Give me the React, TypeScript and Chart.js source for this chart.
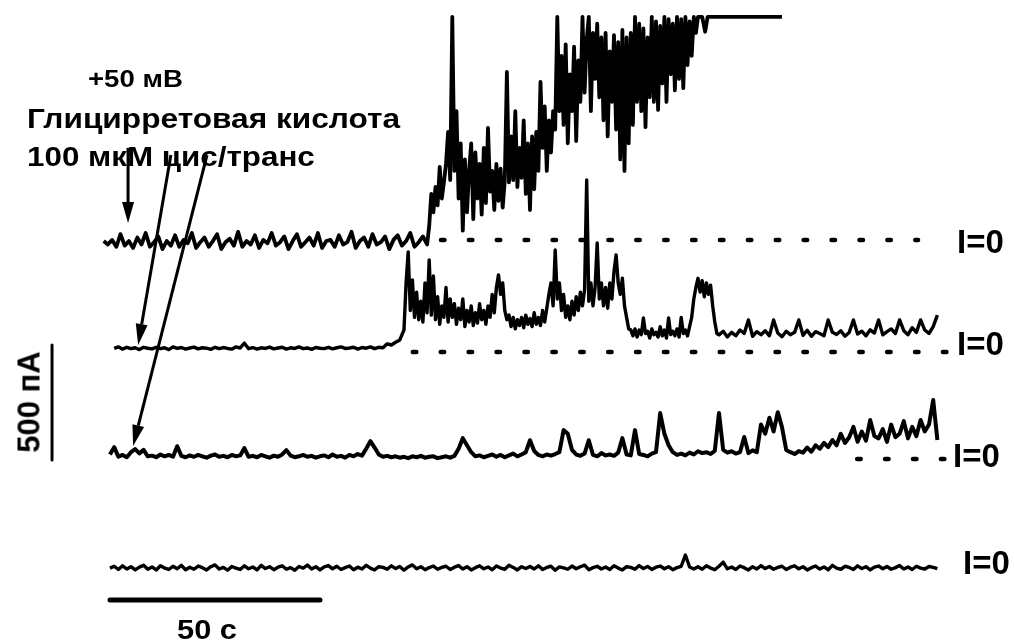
import React, { useEffect, useRef } from "react";
import { Chart, registerables } from "chart.js";

Chart.register(...registerables);

// ---------- DATA (time in s, current in pA) ----------
const trace1Start = -1.5; // s, 1 s sampling for the quiet part
const trace1Baseline = [
  -5, -20, 0, -30, 25, -25, -5, -35, 10, -20,
  30, -30, -10, 15, -40, -5, -25, 20, -30, 0,
  -15, 30, -35, -10, 10, -30, -5, 25, -40, -10,
  5, -25, 35, -30, -5, -20, 20, -35, 0, -15,
  30, -25, -10, 15, -40, -5, 25, -30, -10, 10,
  -25, 30, -35, -5, 0, -30, 20, -20, -10, 35,
  -35, -5, 10, -30, 25, -20, -10, 15, -40, 0,
  20, -25, -5, 30, -30, -10, 15, -20,
];
// 0.5 s sampling after channel incorporation
const trace1Active = [
  60, 200, 120, 230, 150, 317, 180, 250,
  330, 470, 260, 970, 300,
  560, 180, 420, 40, 350, 120, 300,
  420, 90, 380, 180, 330, 110, 400, 160, 487, 210,
  300, 130, 330, 170, 310, 140, 260, 730, 250,
  450, 260, 560, 230, 400, 270, 520,
  200, 420, 130, 450, 220, 470, 300, 687,
  400, 580, 300, 520, 380, 560, 480,
  970, 560,
  800, 500, 850, 420, 720, 560, 840, 430, 780, 600,
  970, 640, 870, 970, 560, 900, 700, 940, 620,
  880, 520, 900, 450, 820, 600, 890, 480, 860,
  350, 913, 300, 880, 420,
  900, 500, 970, 600, 940, 560, 920, 490, 880, 620,
  970, 600, 950, 565, 930, 680, 970, 600, 960, 720, 940, 650, 970, 700,
  960, 660, 970, 760, 950, 800, 970, 900, 970,
];
const trace1TailTime = [141, 141.7, 142.3, 160];
const trace1TailCurrent = [970, 905, 970, 970];

// trace 2: quiet part (1 s), active part (0.5 s), late part (1 s)
const trace2QuietStart = 1;
const trace2Quiet = [
  15, 22, 12, 20, 14, 18, 10, 20, 16, 13,
  20, 14, 18, 10, 22, 15, 19, 12, 17, 21,
  13, 18, 16, 11, 20, 14, 19, 15, 12, 22,
  17, 38, 14, 19, 12, 18, 15, 21, 13, 17,
  20, 12, 18, 15, 22, 14, 17, 11, 19, 16,
  14, 20, 13, 18, 22, 15, 17, 20, 12, 19,
  16, 22, 14, 20, 18, 35, 30, 42, 52,
];
const trace2ActiveStart = 70;
const trace2Active = [
  96, 300, 435, 180, 313, 150, 260, 140, 220, 130, 300, 170, 400, 160, 330, 140, 240, 120, 200, 150,
  280, 130, 230, 150, 210, 120, 190, 140, 230, 110, 180, 130, 200, 115, 170, 125, 210, 140, 180, 120,
  200, 150, 250, 170, 280, 335, 250, 300, 180, 140, 160, 110, 150, 100, 140, 115, 150, 105, 160, 120,
  145, 110, 170, 120, 150, 115, 180, 130, 190, 250, 300, 200, 443, 230, 300, 180, 250, 150, 200, 140,
  220, 160, 240, 180, 260, 200, 270, 748, 220, 300, 200, 280, 474, 230, 300, 200, 280, 190, 300, 230,
  350, 422, 300, 250, 320, 200, 150, 100, 96, 70, 100, 65, 95, 75, 148, 80, 90, 60, 100, 75,
  85, 65, 110, 70, 95, 60, 148, 75, 90, 70, 100, 65, 150, 80, 95, 70, 110, 150, 230, 280,
  320, 260, 310, 240, 300, 250, 290, 200, 130, 80, 74,
];
const trace2LateStart = 146;
const trace2Late = [
  90, 65, 85, 70, 95, 80, 139, 68, 88,
  75, 92, 70, 139, 82, 66, 90, 75, 85, 139,
  72, 94, 68, 88, 80, 70, 139, 85, 76, 92,
  68, 84, 139, 78, 90, 70, 96, 82, 139, 74,
  88, 100, 80, 139, 92, 75, 105, 85, 139, 95,
  80, 110, 160,
];

const trace3Start = 0;
const trace3Current = [
  20, 52, 10, 18, 8, 30, 43, 25, 40, 12,
  15, 8, 20, 12, 18, 10, 56, 14, 8, 16,
  10, 18, 12, 6, 15, 20, 10, 14, 8, 18,
  12, 16, 48, 10, 14, 8, 18, 12, 6, 15,
  10, 20, 39, 15, 8, 12, 18, 10, 14, 6,
  12, 16, 8, 20, 10, 14, 6, 18, 12, 22,
  15, 45, 78, 50, 20, 10, 14, 8, 12, 6,
  10, 4, 12, 8, 14, 6, 10, 12, 4, 8,
  12, 6, 14, 45, 91, 60, 30, 12, 16, 8,
  14, 20, 10, 18, 8, 16, 24, 12, 20, 30,
  82, 35, 18, 12, 20, 15, 22, 30, 126, 110,
  40, 20, 14, 24, 82, 18, 12, 26, 16, 20,
  14, 28, 91, 20, 16, 126, 22, 18, 12, 24,
  30, 200, 110, 60, 30, 18, 24, 16, 28, 20,
  34, 26, 30, 22, 36, 200, 40, 28, 34, 24,
  30, 96, 26, 38, 30, 150, 110, 180, 120, 204,
  139, 40, 30, 22, 35, 28, 50, 32, 60, 45,
  70, 52, 83, 60, 110, 70, 95, 140, 75, 120,
  80, 170, 100, 90, 130, 75, 150, 95, 110, 165,
  90, 140, 100, 170, 120, 150, 257, 83,
];

const trace4Start = 0;
const trace4Current = [
  0, 8, -6, 10, -4, 6, -8, 4, 12, -5,
  5, -8, 10, 0, -6, 8, -3, 12, -7, 4,
  -5, 9, 2, -8, 6, 14, -4, 3, -9, 7,
  0, -6, 10, -3, 5, -8, 12, -2, 6, -7,
  4, 10, -5, 2, -9, 7, 0, 13, -4, 6,
  -8, 5, 11, -3, 8, -6, 2, 9, -7, 4,
  -4, 12, 0, -8, 6, 3, -5, 10, -2, 7,
  -9, 5, 14, -3, 6, -7, 2, 9, -5, 3,
  8, -6, 4, 11, -4, 6, -8, 2, 10, -3,
  5, -7, 9, 0, -5, 12, 3, -8, 6, -2,
  7, -4, 10, -6, 3, 8, -9, 5, 1, -5,
  9, -3, 6, 13, -7, 2, 8, -4, 5, -6,
  10, 0, -8, 6, 3, -5, 11, -2, 7, -6,
  4, 9, -3, 6, -7, 2, 8, 57, 5, -4,
  6, -5, 10, 0, -7, 8, 26, -3, 5, -6,
  9, 2, -8, 6, -4, 11, -2, 7, -5, 3,
  8, -6, 4, 10, -3, 6, -8, 2, 9, -4,
  5, -7, 12, 0, -5, 8, 3, -6, 10, -2,
  6, -8, 4, 9, -3, 7, -5, 2, 11, -4,
  5, -6, 8, 0, -4, 7, 3, -2,
];

// I=0 reference (dotted) segments, time range in s, per trace
const zeroLineStart = [78.8, 72.1, 177.9];
const zeroLineEnd = [192.4, 199.2, 198.8];

const scaleBarTime = 50; // s
const scaleBarCurrent = 500; // pA

const headerLines = ["+50 мВ", "Глицирретовая кислота", "100 мкМ цис/транс"];
const timeBarLabel = "50 с";
const currentBarLabel = "500 пА";
const zeroLabel = "I=0";

// ---------- LAYOUT ----------
const W = 1014;
const H = 644;
const X_MIN = -26.19;
const X_MAX = 215.24;
const Y_MIN = 0;
const Y_MAX = 2800;
const ROW_OFFSET = [1757, 1270, 804, 330];
const TIME_BAR_LEVEL = 191;
const CURRENT_BAR_TIME = -13.8;
const CURRENT_BAR_FROM = 800;
// arrows in (time, absolute current) space
const ARROWS = [
  { t0: 4.3, v0: 2157, t1: 4.3, v1: 1830 },
  { t0: 14.5, v0: 2126, t1: 6.7, v1: 1300 },
  { t0: 23.1, v0: 2126, t1: 5.5, v1: 861 },
];

const FONT = '"Liberation Sans", Arial, "DejaVu Sans", sans-serif';

function series(start: number, step: number, values: number[], offset: number) {
  return values.map((v, i) => ({ x: start + i * step, y: v + offset }));
}

const overlayPlugin = {
  id: "overlay",
  afterDatasetsDraw(chart: any) {
    const { ctx } = chart;
    const xs = chart.scales.x;
    const ys = chart.scales.y;
    ctx.save();
    ctx.strokeStyle = "#000";
    ctx.fillStyle = "#000";
    ctx.lineCap = "round";
    // time scale bar
    ctx.lineWidth = 5;
    ctx.beginPath();
    ctx.moveTo(xs.getPixelForValue(0), ys.getPixelForValue(TIME_BAR_LEVEL));
    ctx.lineTo(xs.getPixelForValue(scaleBarTime), ys.getPixelForValue(TIME_BAR_LEVEL));
    ctx.stroke();
    // current scale bar
    ctx.lineWidth = 3;
    ctx.beginPath();
    ctx.moveTo(xs.getPixelForValue(CURRENT_BAR_TIME), ys.getPixelForValue(CURRENT_BAR_FROM));
    ctx.lineTo(xs.getPixelForValue(CURRENT_BAR_TIME), ys.getPixelForValue(CURRENT_BAR_FROM + scaleBarCurrent));
    ctx.stroke();
    // arrows
    ctx.lineCap = "butt";
    for (const a of ARROWS) {
      const x0 = xs.getPixelForValue(a.t0);
      const y0 = ys.getPixelForValue(a.v0);
      const x1 = xs.getPixelForValue(a.t1);
      const y1 = ys.getPixelForValue(a.v1);
      const ang = Math.atan2(y1 - y0, x1 - x0);
      const headLen = 21;
      const headW = 6;
      const bx = x1 - headLen * Math.cos(ang);
      const by = y1 - headLen * Math.sin(ang);
      ctx.lineWidth = 3;
      ctx.beginPath();
      ctx.moveTo(x0, y0);
      ctx.lineTo(bx, by);
      ctx.stroke();
      ctx.beginPath();
      ctx.moveTo(x1, y1);
      ctx.lineTo(bx + headW * Math.sin(ang), by - headW * Math.cos(ang));
      ctx.lineTo(bx - headW * Math.sin(ang), by + headW * Math.cos(ang));
      ctx.closePath();
      ctx.fill();
    }
    ctx.restore();
  },
};

export default function App() {
  const ref = useRef<HTMLCanvasElement | null>(null);

  useEffect(() => {
    if (!ref.current) return;
    const t1Base = series(trace1Start, 1, trace1Baseline, ROW_OFFSET[0]);
    const activeStart = trace1Start + (trace1Baseline.length - 1) + 0.5;
    const t1Act = series(activeStart, 0.5, trace1Active, ROW_OFFSET[0]);
    const t1Tail = trace1TailTime.map((t, i) => ({ x: t, y: trace1TailCurrent[i] + ROW_OFFSET[0] }));
    const t2 = [
      ...series(trace2QuietStart, 1, trace2Quiet, ROW_OFFSET[1]),
      ...series(trace2ActiveStart, 0.5, trace2Active, ROW_OFFSET[1]),
      ...series(trace2LateStart, 1, trace2Late, ROW_OFFSET[1]),
    ];
    const traceStyle = {
      borderColor: "#000",
      borderWidth: 3.2,
      pointRadius: 0,
      fill: false,
      tension: 0,
      borderJoinStyle: "round" as const,
      order: 0,
    };
    const dotStyle = {
      borderColor: "#000",
      borderWidth: 4.5,
      borderDash: [3.5, 24.4],
      borderCapStyle: "round" as const,
      pointRadius: 0,
      fill: false,
      order: 1,
    };
    const zeroSets = zeroLineStart.map((s, i) => ({
      ...dotStyle,
      data: [
        { x: s, y: ROW_OFFSET[i] },
        { x: zeroLineEnd[i], y: ROW_OFFSET[i] },
      ],
    }));
    const chart = new Chart(ref.current, {
      type: "line",
      data: {
        datasets: [
          { ...traceStyle, borderWidth: 3.8, data: [...t1Base, ...t1Act, ...t1Tail] },
          { ...traceStyle, borderWidth: 3.4, data: t2 },
          { ...traceStyle, borderWidth: 4, data: series(trace3Start, 1, trace3Current, ROW_OFFSET[2]) },
          { ...traceStyle, borderWidth: 3.4, data: series(trace4Start, 1, trace4Current, ROW_OFFSET[3]) },
          ...zeroSets,
        ] as any,
      },
      options: {
        responsive: false,
        animation: false,
        devicePixelRatio: 1,
        events: [],
        layout: { padding: 0 },
        plugins: {
          legend: { display: false },
          tooltip: { enabled: false },
          title: { display: false },
        },
        scales: {
          x: { type: "linear", min: X_MIN, max: X_MAX, display: false },
          y: { type: "linear", min: Y_MIN, max: Y_MAX, display: false },
        },
      },
      plugins: [overlayPlugin],
    });
    return () => chart.destroy();
  }, []);

  const textBase: React.CSSProperties = {
    position: "absolute",
    fontFamily: FONT,
    fontWeight: 700,
    color: "#000",
    lineHeight: 1,
    whiteSpace: "nowrap",
    transformOrigin: "left center",
  };

  return (
    <div style={{ position: "absolute", left: 0, top: 0, width: W, height: H, background: "#fff", overflow: "hidden" }}>
      <canvas ref={ref} width={W} height={H} style={{ position: "absolute", left: 0, top: 0, width: W, height: H }} />
      <div style={{ ...textBase, left: 88, top: 68, fontSize: 23, transform: "scaleX(1.2)" }}>{headerLines[0]}</div>
      <div style={{ ...textBase, left: 27, top: 105, fontSize: 28, transform: "scaleX(1.13)" }}>{headerLines[1]}</div>
      <div style={{ ...textBase, left: 27, top: 143, fontSize: 28, transform: "scaleX(1.12)" }}>{headerLines[2]}</div>
      <div style={{ ...textBase, left: 177, top: 616, fontSize: 28, transform: "scaleX(1.1)" }}>{timeBarLabel}</div>
      <div
        style={{
          ...textBase,
          left: 29,
          top: 402,
          fontSize: 31,
          transformOrigin: "center center",
          transform: "translate(-50%, -50%) rotate(-90deg)",
        }}
      >
        {currentBarLabel}
      </div>
      {[
        { x: 957, y: 241 },
        { x: 957, y: 343 },
        { x: 953, y: 455 },
        { x: 963, y: 562 },
      ].map((p, i) => (
        <div key={i} style={{ ...textBase, left: p.x, top: p.y, fontSize: 33, transform: "translateY(-50%)" }}>
          {zeroLabel}
        </div>
      ))}
    </div>
  );
}
